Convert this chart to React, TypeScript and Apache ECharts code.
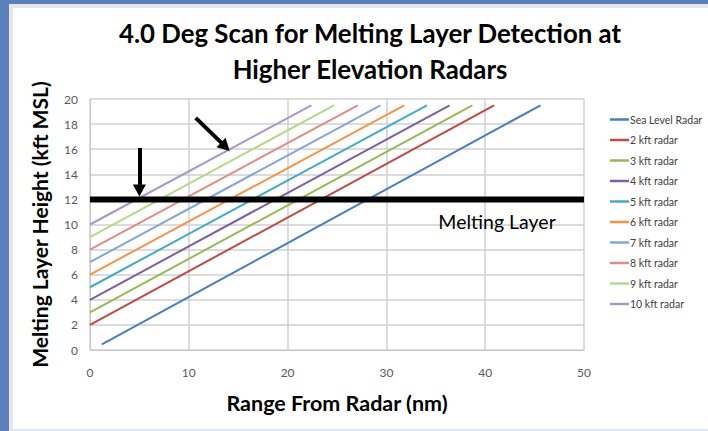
import React, { useEffect, useRef } from "react";
import * as echarts from "echarts";

const seriesNames = [
  "Sea Level Radar",
  "2 kft radar",
  "3 kft radar",
  "4 kft radar",
  "5 kft radar",
  "6 kft radar",
  "7 kft radar",
  "8 kft radar",
  "9 kft radar",
  "10 kft radar",
];
const startRange = [1.2, 0, 0, 0, 0, 0, 0, 0, 0, 0];
const startHeight = [0.45, 2, 3, 4, 5, 6, 7, 8, 9, 10];
const endRange = [45.6, 40.9, 38.7, 36.4, 34.1, 31.8, 29.4, 27.1, 24.7, 22.4];
const endHeight = [19.5, 19.5, 19.5, 19.5, 19.5, 19.5, 19.5, 19.5, 19.5, 19.5];
const seriesColors = [
  "#4a7ebb",
  "#be4b48",
  "#98b954",
  "#7d60a0",
  "#46aac5",
  "#f69546",
  "#86a6d8",
  "#e08d8a",
  "#b5d88a",
  "#a897c9",
];
const meltingLayerHeight = 12;
const meltingLayerLabel = "Melting Layer";
const xTicks = [0, 50, 10];
const yTicks = [0, 20, 2];
const arrowVertical = [
  [5, 16.1],
  [5, 12.7],
];
const arrowDiagonal = [
  [10.7, 18.5],
  [13.7, 16.2],
];

const FONT = "Lato, 'Open Sans', sans-serif";

export default function App() {
  const ref = useRef<HTMLDivElement>(null);
  useEffect(() => {
    document.body.style.margin = "0";
    const chart = echarts.init(ref.current!, null, { renderer: "svg" });
    const lineSeries: any[] = seriesNames.map((name, i) => ({
      name,
      type: "line",
      symbol: "none",
      lineStyle: { width: 2, color: seriesColors[i] },
      itemStyle: { color: seriesColors[i] },
      data: [
        [startRange[i], startHeight[i]],
        [endRange[i], endHeight[i]],
      ],
      z: 3,
    }));
    lineSeries.push({
      name: meltingLayerLabel,
      type: "line",
      symbol: "none",
      lineStyle: { width: 6, color: "#000" },
      data: [
        [xTicks[0], meltingLayerHeight],
        [xTicks[1], meltingLayerHeight],
      ],
      z: 4,
      markLine: {
        silent: true,
        symbol: ["none", "triangle"],
        symbolSize: [13, 12],
        label: { show: false },
        lineStyle: { color: "#000", width: 4, type: "solid" },
        data: [
          [{ coord: arrowVertical[0] }, { coord: arrowVertical[1] }],
          [{ coord: arrowDiagonal[0] }, { coord: arrowDiagonal[1] }],
        ],
      },
      markPoint: {
        symbol: "rect",
        symbolSize: 1,
        itemStyle: { color: "transparent" },
        data: [
          {
            coord: [41.2, 10.2],
            label: {
              show: true,
              formatter: meltingLayerLabel,
              fontFamily: FONT,
              fontSize: 19.5,
              color: "#000",
            },
          },
        ],
      },
    });
    chart.setOption({
      animation: false,
      backgroundColor: "#fff",
      graphic: [
        { type: "rect", shape: { x: 0, y: 0, width: 708, height: 431 }, style: { fill: "#5a7fbd" }, z: -10 },
        { type: "rect", shape: { x: 9, y: 4, width: 699, height: 427 }, style: { fill: "#ede8d8" }, z: -9 },
        { type: "rect", shape: { x: 11, y: 6, width: 697, height: 425 }, style: { fill: "#dde6f2" }, z: -8 },
        { type: "rect", shape: { x: 13, y: 8, width: 695, height: 421 }, style: { fill: "#fff" }, z: -7 },
      ],
      title: {
        text: "4.0 Deg Scan for Melting Layer Detection at\nHigher Elevation Radars",
        left: 365,
        top: 10,
        textAlign: "center",
        textStyle: {
          fontFamily: FONT,
          fontWeight: "bold",
          fontSize: 25.8,
          lineHeight: 36,
          color: "#000",
        },
      },
      legend: {
        orient: "vertical",
        left: 605,
        top: 109,
        data: seriesNames,
        icon: "rect",
        itemWidth: 19,
        itemHeight: 2.5,
        itemGap: 9.5,
        textStyle: { fontFamily: FONT, fontSize: 10.5, color: "#404040", padding: [0, 0, 0, -4] },
      },
      grid: { left: 90, right: 124, top: 99, bottom: 81 },
      xAxis: {
        type: "value",
        min: xTicks[0],
        max: xTicks[1],
        interval: xTicks[2],
        name: "Range From Radar (nm)",
        nameLocation: "middle",
        nameGap: 42,
        nameTextStyle: { fontFamily: FONT, fontWeight: "bold", fontSize: 21.5, color: "#000" },
        axisLine: { show: true, lineStyle: { color: "#c8c8c8" } },
        axisTick: { show: false },
        axisLabel: { fontFamily: FONT, fontSize: 12, color: "#595959", margin: 16 },
        splitLine: { show: true, lineStyle: { color: "#d0d0d0", width: 1.5 } },
      },
      yAxis: {
        type: "value",
        min: yTicks[0],
        max: yTicks[1],
        interval: yTicks[2],
        name: "Melting Layer Height (kft MSL)",
        nameLocation: "middle",
        nameGap: 40,
        nameTextStyle: { fontFamily: FONT, fontWeight: "bold", fontSize: 21, color: "#000" },
        axisLine: { show: true, lineStyle: { color: "#c8c8c8" } },
        axisTick: { show: false },
        axisLabel: { fontFamily: FONT, fontSize: 12, color: "#595959", margin: 12 },
        splitLine: { show: true, lineStyle: { color: "#d0d0d0", width: 1.5 } },
      },
      series: lineSeries,
    });
    return () => chart.dispose();
  }, []);
  return <div ref={ref} style={{ width: 708, height: 431 }} />;
}
